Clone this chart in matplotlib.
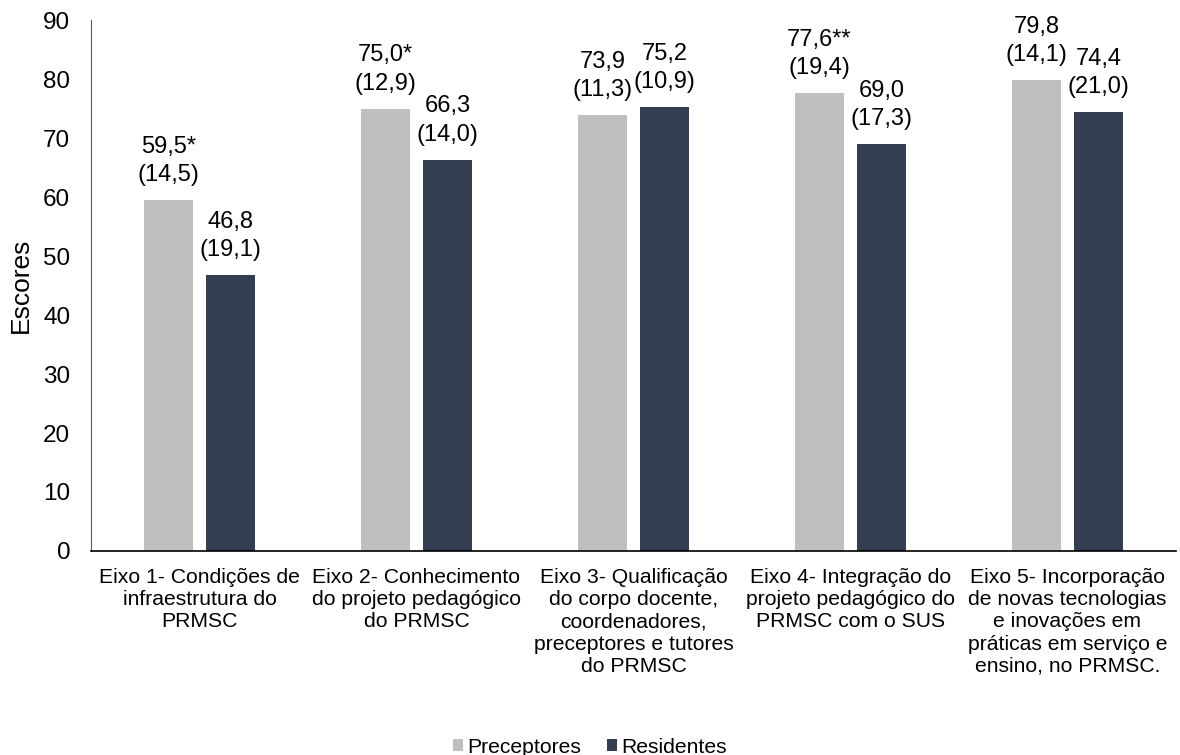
import matplotlib
matplotlib.use("Agg")
import matplotlib.pyplot as plt
import numpy as np

plt.rcParams['font.family'] = ['Liberation Sans', 'DejaVu Sans']

categories = [
    "Eixo 1- Condições de\ninfraestrutura do\nPRMSC",
    "Eixo 2- Conhecimento\ndo projeto pedagógico\ndo PRMSC",
    "Eixo 3- Qualificação\ndo corpo docente,\ncoordenadores,\npreceptores e tutores\ndo PRMSC",
    "Eixo 4- Integração do\nprojeto pedagógico do\nPRMSC com o SUS",
    "Eixo 5- Incorporação\nde novas tecnologias\ne inovações em\npráticas em serviço e\nensino, no PRMSC.",
]
preceptores = [59.5, 75.0, 73.9, 77.6, 79.8]
preceptores_sd = [14.5, 12.9, 11.3, 19.4, 14.1]
preceptores_sig = ["*", "*", "", "**", ""]
residentes = [46.8, 66.3, 75.2, 69.0, 74.4]
residentes_sd = [19.1, 14.0, 10.9, 17.3, 21.0]
residentes_sig = ["", "", "", "", ""]

def fmt(v):
    return f"{v:.1f}".replace(".", ",")

fig = plt.figure(figsize=(11.8, 7.55), dpi=100)
ax = fig.add_axes([0.0771, 0.2702, 0.9195, 0.7033])

x = np.arange(len(categories))
w = 0.222
off = 0.143
c1 = "#BFBFBF"
c2 = "#333F50"
b1 = ax.bar(x - off, preceptores, w, color=c1, label="Preceptores")
b2 = ax.bar(x + off, residentes, w, color=c2, label="Residentes")

fs_ann = 17
for xs, vals, sds, sigs in [(x - off, preceptores, preceptores_sd, preceptores_sig),
                            (x + off, residentes, residentes_sd, residentes_sig)]:
    for xi, v, sd, s in zip(xs, vals, sds, sigs):
        ax.annotate(f"{fmt(v)}{s}\n({fmt(sd)})", (xi, v), xytext=(0, 10),
                    textcoords="offset points", ha="center", va="bottom",
                    fontsize=fs_ann, linespacing=1.38)

ax.set_xlim(-0.5, len(categories) - 0.5)
ax.set_ylim(0, 90)
ax.set_yticks(np.arange(0, 91, 10))
ax.set_xticks(x)
ax.set_xticklabels(categories, fontsize=15.2, linespacing=1.22)
ax.tick_params(axis='y', labelsize=17.5, length=0, pad=15)
ax.tick_params(axis='x', length=0, pad=12)
ax.set_ylabel("Escores", fontsize=19, labelpad=7)
for sp in ["top", "right"]:
    ax.spines[sp].set_visible(False)
ax.spines["left"].set_color("#595959")
ax.spines["bottom"].set_color("black")
ax.spines["bottom"].set_linewidth(1.2)

fig.legend(handles=[b1, b2], loc="center", bbox_to_anchor=(0.5, 0.01),
           ncol=2, frameon=False, fontsize=15.2, handlelength=0.47,
           handleheight=0.5, handletextpad=0.2, columnspacing=1.23,
           borderaxespad=0, borderpad=0)

fig.savefig("out.png", dpi=100)
